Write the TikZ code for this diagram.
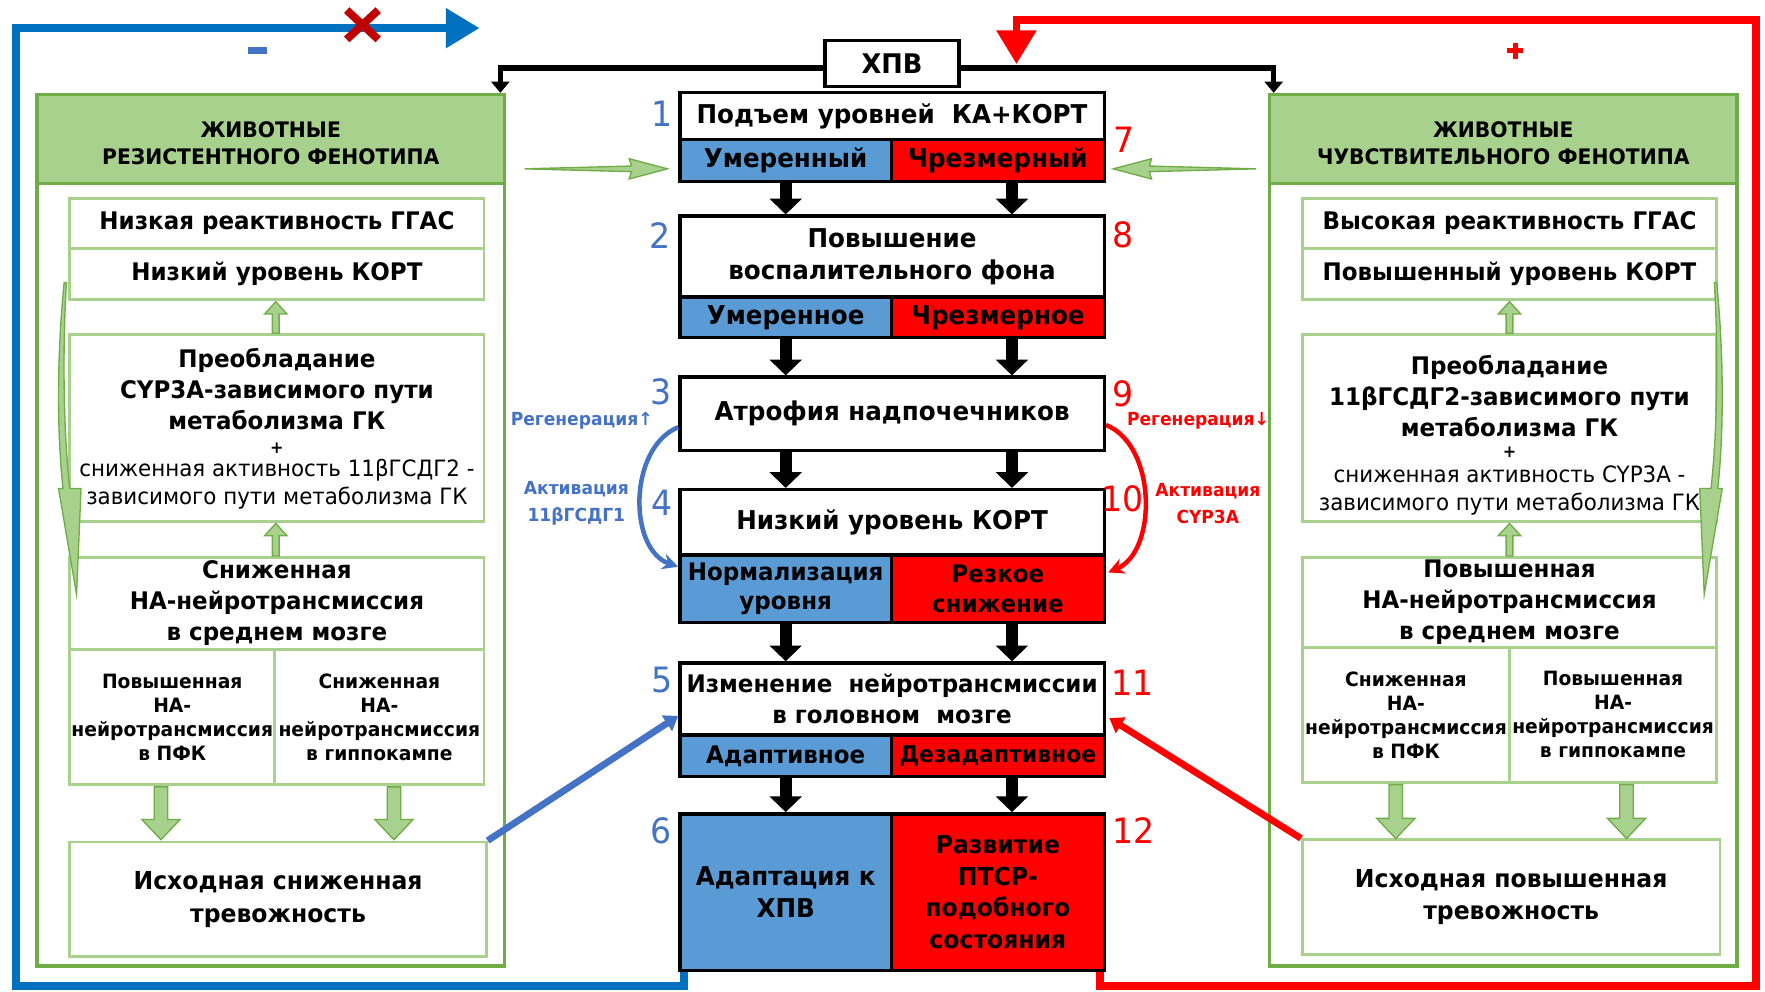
\documentclass[tikz,border=0pt]{standalone}
\usepackage{fontspec}
\setmainfont{DejaVu Sans}[FakeStretch=0.95]
\usetikzlibrary{arrows.meta,calc}
\definecolor{cblue}{HTML}{5B9BD5}
\definecolor{cred}{HTML}{FF0000}
\definecolor{gdark}{HTML}{70AD47}
\definecolor{glight}{HTML}{A9D18E}
\definecolor{loopblue}{HTML}{0070C0}
\definecolor{numblue}{HTML}{4472C4}
\definecolor{xred}{HTML}{C00000}
\newcommand\gup[3]{\draw[garr] (#1-3,#3) -- (#1-3,#2+11) -- (#1-10,#2+11) -- (#1,#2) -- (#1+10,#2+11) -- (#1+3,#2+11) -- (#1+3,#3) -- cycle;}
\newcommand\gdown[3]{\draw[garr] (#1-6,#2) -- (#1-6,#3-18) -- (#1-17,#3-18) -- (#1,#3) -- (#1+17,#3-18) -- (#1+6,#3-18) -- (#1+6,#2) -- cycle;}
\begin{document}
\begin{tikzpicture}[x=1pt,y=-1pt,
  cb/.style={draw=black,line width=3pt,inner sep=0pt,align=center,font=\fontsize{23}{29}\selectfont\bfseries},
  gb/.style={draw=glight,line width=2.5pt,fill=white,inner sep=0pt,align=center,font=\fontsize{21.5}{27.5}\selectfont\bfseries},
  gt/.style={inner sep=0pt,align=center,font=\fontsize{21.5}{27.5}\selectfont\bfseries},
  st/.style={font=\fontsize{17.5}{21.3}\selectfont\bfseries},
  hd/.style={draw=gdark,line width=3pt,fill=glight,inner sep=0pt},
  hdt/.style={inner sep=0pt,align=center,font=\fontsize{19}{24}\selectfont\bfseries},
  pan/.style={draw=gdark,line width=3pt,fill=white,inner sep=0pt},
  numb/.style={inner sep=0pt,font=\fontsize{31}{31}\selectfont},
  sl/.style={inner sep=0pt,align=center,font=\fontsize{16}{24}\selectfont\bfseries},
  barr/.style={line width=11pt,-{Triangle[width=28pt,length=14pt]}},
  garr/.style={draw=gdark,fill=glight,line width=1.2pt,line join=miter},
  kline/.style={line width=5pt,-{Triangle[width=16pt,length=10pt]}},
  bloop/.style={loopblue,line width=7pt,-{Triangle[width=34pt,length=30pt]}},
  rloop/.style={cred,line width=7pt,-{Triangle[width=34pt,length=30pt]}},
]
\useasboundingbox[fill=white] (0,0) rectangle (1568,881);

% ---------- side panels ----------
\node[pan, minimum width=415pt, minimum height=774pt] (lpan) at (240.5,471) {};
\node[hd, minimum width=415pt, minimum height=79pt] (lhead) at (240.5,123.5) {};
\node[hdt] (lheadt) at (240.5,127) {ЖИВОТНЫЕ\\РЕЗИСТЕНТНОГО ФЕНОТИПА};
\node[pan, minimum width=415pt, minimum height=774pt] (rpan) at (1335.5,471) {};
\node[hd, minimum width=415pt, minimum height=79pt] (rhead) at (1335.5,123.5) {};
\node[hdt] (rheadt) at (1335.5,127) {ЖИВОТНЫЕ\\ЧУВСТВИТЕЛЬНОГО ФЕНОТИПА};

% left inner boxes
\node[gb, minimum width=368pt, minimum height=45pt] (l1) at (246,198.5) {Низкая реактивность ГГАС};
\node[gb, minimum width=368pt, minimum height=45pt] (l2) at (246,243.5) {Низкий уровень КОРТ};
\node[gb, minimum width=368pt, minimum height=166pt] (l3) at (246,380) {};
\node[gt] (l3a) at (246,346) {Преобладание\\CYP3A-зависимого пути\\метаболизма ГК};
\node[gt, font=\fontsize{15}{15}\selectfont\bfseries] (l3p) at (246,398) {+};
\node[gt, font=\fontsize{20}{25}\selectfont] (l3b) at (246,430.5) {сниженная активность 11βГСДГ2 -\\зависимого пути метаболизма ГК};
\node[gb, minimum width=368pt, minimum height=82pt] (l4) at (246,536) {Сниженная\\НА-нейротрансмиссия\\в среднем мозге};
\node[gb, st, minimum width=182pt, minimum height=120pt] (l5a) at (153,637) {Повышенная\\НА-\\нейротрансмиссия\\в ПФК};
\node[gb, st, minimum width=186pt, minimum height=120pt] (l5b) at (337,637) {Сниженная\\НА-\\нейротрансмиссия\\в гиппокампе};
\node[gb, font=\fontsize{22}{29}\selectfont\bfseries, minimum width=370pt, minimum height=102pt] (l6) at (247,799) {Исходная сниженная\\тревожность};

% right inner boxes
\node[gb, minimum width=368pt, minimum height=45pt] (r1) at (1341,198.5) {Высокая реактивность ГГАС};
\node[gb, minimum width=368pt, minimum height=45pt] (r2) at (1341,243.5) {Повышенный уровень КОРТ};
\node[gb, minimum width=368pt, minimum height=166pt] (r3) at (1341,380) {};
\node[gt] (r3a) at (1341,351.5) {Преобладание\\11βГСДГ2-зависимого пути\\метаболизма ГК};
\node[gt, font=\fontsize{15}{15}\selectfont\bfseries] (r3p) at (1341,402) {+};
\node[gt, font=\fontsize{20}{25}\selectfont] (r3b) at (1341,436) {сниженная активность CYP3A -\\зависимого пути метаболизма ГК};
\node[gb, minimum width=368pt, minimum height=80pt] (r4) at (1341,535) {Повышенная\\НА-нейротрансмиссия\\в среднем мозге};
\node[gb, st, minimum width=184pt, minimum height=120pt] (r5a) at (1249,635) {Сниженная\\НА-\\нейротрансмиссия\\в ПФК};
\node[gb, st, minimum width=184pt, minimum height=120pt] (r5b) at (1433,635) {Повышенная\\НА-\\нейротрансмиссия\\в гиппокампе};
\node[gb, font=\fontsize{22}{29}\selectfont\bfseries, minimum width=371pt, minimum height=102pt] (r6) at (1342.5,797) {Исходная повышенная\\тревожность};

% green block arrows
\gup{245}{268}{296}
\gup{245}{465}{494}
\gup{1341}{268}{296}
\gup{1341}{465}{494}
\gdown{143}{699}{746}
\gdown{350}{699}{746}
\gdown{1240}{697}{745}
\gdown{1445}{697}{745}

% long curved green arrows and horizontal green arrows
\draw[garr] (57,251) .. controls (50,320) and (51,390) .. (56,434) -- (52,434) -- (68,528) -- (72,434) -- (62,434) .. controls (57,390) and (55,320) .. (59,251) -- cycle;
\draw[garr] (466,150) -- (561,147.5) -- (559,141) -- (593,150) -- (559,159) -- (561,152.5) -- cycle;
\begin{scope}[xshift=1582pt,xscale=-1]
\draw[garr] (57,251) .. controls (50,320) and (51,390) .. (56,434) -- (52,434) -- (68,528) -- (72,434) -- (62,434) .. controls (57,390) and (55,320) .. (59,251) -- cycle;
\draw[garr] (466,150) -- (561,147.5) -- (559,141) -- (593,150) -- (559,159) -- (561,152.5) -- cycle;
\end{scope}

% ---------- centre column ----------
\node[cb, fill=white, minimum width=377pt, minimum height=42pt] (b1) at (792.5,103) {Подъем уровней\ \ КА+КОРТ};
\node[cb, fill=cblue, minimum width=188pt, minimum height=37pt] (b1l) at (698,142.5) {Умеренный};
\node[cb, fill=cred, minimum width=189pt, minimum height=37pt] (b1r) at (886.5,142.5) {Чрезмерный};

\node[cb, fill=white, minimum width=377pt, minimum height=72pt] (b2) at (792.5,228) {Повышение\\воспалительного фона};
\node[cb, fill=cblue, minimum width=188pt, minimum height=36pt] (b2l) at (698,282) {Умеренное};
\node[cb, fill=cred, minimum width=189pt, minimum height=36pt] (b2r) at (886.5,282) {Чрезмерное};

\node[cb, fill=white, minimum width=377pt, minimum height=65pt] (b3) at (792.5,367.5) {Атрофия надпочечников};

\node[cb, fill=white, minimum width=377pt, minimum height=58pt] (b4) at (792.5,464) {Низкий уровень КОРТ};
\node[cb, fill=cblue, minimum width=188pt, minimum height=60pt, font=\fontsize{21.5}{26}\selectfont\bfseries] (b4l) at (698,523) {Нормализация\\уровня};
\node[cb, fill=cred, minimum width=189pt, minimum height=60pt, font=\fontsize{21.5}{26}\selectfont\bfseries] (b4r) at (886.5,523) {Резкое\\снижение};

\node[cb, fill=white, minimum width=377pt, minimum height=64pt, font=\fontsize{21.5}{28}\selectfont\bfseries] (b5) at (792.5,621) {Изменение\ \ нейротрансмиссии\\в головном\ \ мозге};
\node[cb, fill=cblue, minimum width=188pt, minimum height=37pt, font=\fontsize{21.5}{28}\selectfont\bfseries] (b5l) at (698,671.5) {Адаптивное};
\node[cb, fill=cred, minimum width=189pt, minimum height=37pt, font=\fontsize{20.5}{28}\selectfont\bfseries] (b5r) at (886.5,671.5) {Дезадаптивное};

\node[cb, fill=cblue, minimum width=188pt, minimum height=139pt] (b6) at (698,792.5) {Адаптация к\\ХПВ};
\node[cb, fill=cred, minimum width=189pt, minimum height=139pt, font=\fontsize{22}{28}\selectfont\bfseries] (b12) at (886.5,792.5) {Развитие\\ПТСР-\\подобного\\состояния};

% black arrows between steps
\coordinate (ar) at (899,0);
\draw[barr] (b1l.south) -- (b2.north -| b1l.south);
\draw[barr] (b1r.south -| ar) -- (b2.north -| ar);
\draw[barr] (b2l.south) -- (b3.north -| b2l.south);
\draw[barr] (b2r.south -| ar) -- (b3.north -| ar);
\draw[barr] (b3.south -| b2l.south) -- (b4.north -| b2l.south);
\draw[barr] (b3.south -| ar) -- (b4.north -| ar);
\draw[barr] (b4l.south) -- (b5.north -| b4l.south);
\draw[barr] (b4r.south -| ar) -- (b5.north -| ar);
\draw[barr] (b5l.south) -- (b6.north);
\draw[barr] (b5r.south -| ar) -- (b12.north -| ar);

% ХПВ
\node[cb, fill=white, minimum width=119pt, minimum height=41pt, font=\fontsize{24}{28}\selectfont\bfseries] (xpv) at (792.5,56.5) {ХПВ};
\draw[kline] ($(xpv.west)+(0,4)$) -| ($(lhead.north east)+(-5,0)$);
\draw[kline] ($(xpv.east)+(0,4)$) -| ($(rhead.north west)+(5,0)$);

% feedback loops
\coordinate (bluetip) at (426,25);
\coordinate (redtip) at (903,57);
\draw[bloop] ($(b6.south west)+(5,0)$) |- (14,876) |- (bluetip);
\draw[rloop] ($(b12.south east)+(-5,0)$) |- (1560,876) |- (903,18) -- (redtip);
\draw[xred, line width=7pt] (308,9) -- (336,35) (308,35) -- (336,9);
\fill[numblue] (220,42) rectangle (237,48);
\draw[cred, line width=4.5pt] (1339,45) -- (1353,45) (1346,38) -- (1346,52);

% curved side arrows
\draw[numblue, line width=4pt, -{Stealth[length=14pt,width=14pt]}] ($(b3.west)+(0,12)$) .. controls (558,398) and (558,488) .. ($(b4l.north west)+(0,12)$);
\draw[cred, line width=4pt, -{Stealth[length=14pt,width=14pt]}] ($(b3.east)+(0,10)$) .. controls (1028,396) and (1028,490) .. ($(b4r.north east)+(2,17)$);

% diagonal arrows
\draw[numblue, line width=6pt, -{Triangle[length=12pt,width=16pt]}] (l6.north east) -- ($(b5.west)+(0,15)$);
\draw[cred, line width=6pt, -{Triangle[length=12pt,width=16pt]}] (r6.north west) -- ($(b5.east)+(3,17)$);

% side labels
\node[sl, numblue, anchor=east] (reg1) at (580,374) {Регенерация↑};
\node[sl, numblue] (act1) at (512,447) {Активация\\11βГСДГ1};
\node[sl, cred, anchor=west] (reg2) at (1001,374) {Регенерация↓};
\node[sl, cred] (act2) at (1073,447) {Активация\\CYP3A};

% step numbers
\node[numb, numblue] (n1) at (588,101) {1};
\node[numb, numblue] (n2) at (586,209) {2};
\node[numb, numblue] (n3) at (587,348) {3};
\node[numb, numblue] (n4) at (588,447) {4};
\node[numb, numblue] (n5) at (588,604) {5};
\node[numb, numblue] (n6) at (587,738) {6};
\node[numb, cred] (n7) at (999,124) {7};
\node[numb, cred] (n8) at (998,209) {8};
\node[numb, cred] (n9) at (998,350) {9};
\node[numb, cred] (n10) at (997,443) {10};
\node[numb, cred] (n11) at (1006,607) {11};
\node[numb, cred] (n12) at (1007,738) {12};
\end{tikzpicture}
\end{document}
